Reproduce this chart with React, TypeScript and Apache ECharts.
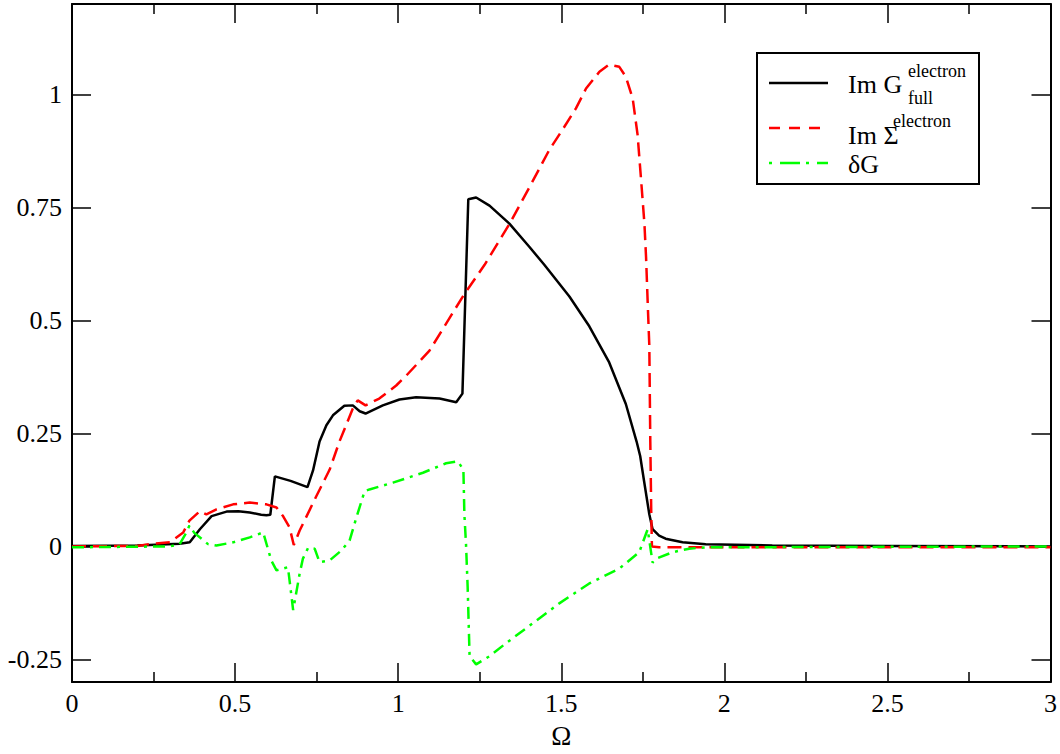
import React, { useEffect, useRef } from "react";
import * as echarts from "echarts";

// Im G_full^electron
const gX = [0, 0.2, 0.33, 0.361, 0.392, 0.428, 0.474, 0.51, 0.545, 0.58, 0.596, 0.608, 0.622, 0.67, 0.722, 0.739, 0.759, 0.78, 0.8, 0.835, 0.861, 0.882, 0.9, 0.953, 1.004, 1.055, 1.127, 1.178, 1.197, 1.215, 1.239, 1.28, 1.341, 1.402, 1.448, 1.525, 1.586, 1.647, 1.698, 1.731, 1.742, 1.754, 1.77, 1.78, 1.8, 1.82, 1.872, 1.943, 2.147, 2.5, 3];
const gY = [0.001, 0.002, 0.006, 0.009, 0.038, 0.067, 0.077, 0.078, 0.075, 0.07, 0.069, 0.07, 0.155, 0.145, 0.131, 0.168, 0.232, 0.268, 0.29, 0.311, 0.312, 0.299, 0.294, 0.312, 0.325, 0.33, 0.327, 0.319, 0.338, 0.768, 0.772, 0.754, 0.714, 0.663, 0.623, 0.553, 0.487, 0.407, 0.315, 0.232, 0.2, 0.144, 0.071, 0.038, 0.024, 0.017, 0.009, 0.005, 0.002, 0.001, 0.0];

// Im Sigma^electron
const sX = [0, 0.2, 0.239, 0.3, 0.341, 0.36, 0.392, 0.412, 0.443, 0.494, 0.545, 0.596, 0.627, 0.647, 0.667, 0.68, 0.698, 0.749, 0.79, 0.82, 0.861, 0.876, 0.9, 0.942, 0.994, 1.025, 1.096, 1.2, 1.265, 1.341, 1.402, 1.464, 1.504, 1.545, 1.576, 1.617, 1.647, 1.678, 1.698, 1.719, 1.734, 1.745, 1.755, 1.76, 1.766, 1.77, 1.773, 1.776, 1.778, 1.8, 3];
const sY = [0, 0.001, 0.005, 0.009, 0.031, 0.057, 0.078, 0.071, 0.082, 0.093, 0.097, 0.093, 0.086, 0.067, 0.042, 0.003, 0.035, 0.111, 0.17, 0.232, 0.305, 0.323, 0.312, 0.327, 0.356, 0.378, 0.433, 0.555, 0.623, 0.713, 0.794, 0.878, 0.922, 0.969, 1.013, 1.05, 1.066, 1.061, 1.039, 0.991, 0.911, 0.809, 0.714, 0.64, 0.52, 0.444, 0.232, 0.071, 0.0, -0.002, -0.002];

// delta G
const dX = [0, 0.3, 0.33, 0.351, 0.36, 0.375, 0.417, 0.443, 0.494, 0.545, 0.586, 0.611, 0.627, 0.662, 0.667, 0.678, 0.698, 0.708, 0.724, 0.744, 0.759, 0.79, 0.826, 0.851, 0.872, 0.897, 0.912, 0.984, 1.076, 1.147, 1.183, 1.2, 1.203, 1.208, 1.213, 1.219, 1.239, 1.28, 1.331, 1.413, 1.494, 1.586, 1.678, 1.739, 1.765, 1.78, 1.795, 1.841, 1.892, 1.943, 2.5, 3];
const dY = [-0.002, 0.0, 0.005, 0.031, 0.046, 0.03, 0.005, 0.002, 0.009, 0.02, 0.031, -0.031, -0.053, -0.046, -0.075, -0.141, -0.06, -0.027, -0.003, -0.005, -0.035, -0.031, -0.009, 0.013, 0.064, 0.122, 0.126, 0.141, 0.163, 0.184, 0.188, 0.17, 0.071, 0.005, -0.089, -0.243, -0.261, -0.243, -0.214, -0.17, -0.126, -0.082, -0.049, -0.013, 0.038, -0.036, -0.026, -0.013, -0.005, -0.002, -0.001, 0.0];

const yTicks = [-0.25, 0, 0.25, 0.5, 0.75, 1];

const zip = (xs: number[], ys: number[]) => xs.map((x, i) => [x, ys[i]]);

const FONT = "'Liberation Serif', 'Times New Roman', serif";

export default function App() {
  const ref = useRef<HTMLDivElement>(null);
  useEffect(() => {
    const chart = echarts.init(ref.current!, null, { renderer: "svg" });
    const axisLine = { show: true, onZero: false, lineStyle: { color: "#000", width: 2 } };
    const xCommon = {
      type: "value",
      min: 0,
      max: 3,
      interval: 0.5,
      axisLine,
      splitLine: { show: false },
      axisTick: { show: true, inside: true, length: 19, lineStyle: { color: "#000", width: 1.5 } },
      minorTick: { show: true, splitNumber: 2, length: 10, lineStyle: { color: "#000", width: 1.5 } },
    };
    const yCommon = {
      type: "value",
      min: -0.3,
      max: 1.2,
      axisLine,
      splitLine: { show: false },
      axisTick: {
        show: true,
        inside: true,
        length: 19,
        customValues: yTicks,
        lineStyle: { color: "#000", width: 1.5 },
      },
    };
    const lx = 769, lx2 = 828;
    const txt = (x: number, y: number, text: string, size: number) => ({
      type: "text",
      z: 101,
      style: { x, y, text, fontFamily: FONT, fontSize: size, fill: "#000", verticalAlign: "middle" },
    });
    chart.setOption({
      animation: false,
      backgroundColor: "#fff",
      textStyle: { fontFamily: FONT, color: "#000" },
      grid: { left: 72, top: 4, right: 8, bottom: 64, containLabel: false },
      xAxis: [
        {
          ...xCommon,
          position: "bottom",
          name: "Ω",
          nameLocation: "middle",
          nameGap: 40,
          nameTextStyle: { fontFamily: FONT, fontSize: 27, color: "#000" },
          axisLabel: { show: true, fontFamily: FONT, fontSize: 26, color: "#000", margin: 8 },
        },
        { ...xCommon, position: "top", axisLabel: { show: false } },
      ],
      yAxis: [
        {
          ...yCommon,
          position: "left",
          axisLabel: {
            show: true,
            customValues: yTicks,
            fontFamily: FONT,
            fontSize: 26,
            color: "#000",
            margin: 10,
          },
        },
        { ...yCommon, position: "right", axisLabel: { show: false } },
      ],
      series: [
        {
          type: "line",
          data: zip(gX, gY),
          showSymbol: false,
          symbol: "none",
          lineStyle: { color: "#000", width: 2.5 },
        },
        {
          type: "line",
          data: zip(sX, sY),
          showSymbol: false,
          symbol: "none",
          lineStyle: { color: "#ff0000", width: 2.5, type: [14, 7] },
        },
        {
          type: "line",
          data: zip(dX, dY),
          showSymbol: false,
          symbol: "none",
          lineStyle: { color: "#00ff00", width: 2.5, type: [12, 6, 3, 6] },
        },
      ],
      graphic: [
        {
          type: "rect",
          shape: { x: 757, y: 53, width: 222, height: 131 },
          style: { fill: "#fff", stroke: "#000", lineWidth: 2 },
          z: 100,
        },
        {
          type: "line",
          shape: { x1: lx, y1: 83, x2: lx2, y2: 83 },
          style: { stroke: "#000", lineWidth: 2.5 },
          z: 101,
        },
        {
          type: "line",
          shape: { x1: lx, y1: 128, x2: lx2, y2: 128 },
          style: { stroke: "#ff0000", lineWidth: 2.5, lineDash: [11, 9] },
          z: 101,
        },
        {
          type: "line",
          shape: { x1: lx, y1: 163, x2: lx2, y2: 163 },
          style: { stroke: "#00ff00", lineWidth: 2.5, lineDash: [3, 8, 20, 6] },
          z: 101,
        },
        txt(848, 84, "Im G", 26),
        txt(908, 70.5, "electron", 18),
        txt(908, 97.5, "full", 18),
        txt(848, 135, "Im Σ", 26),
        txt(893, 120.5, "electron", 18),
        txt(848, 164, "δG", 26),
      ],
    });
    return () => chart.dispose();
  }, []);
  return (
    <div
      ref={ref}
      style={{ position: "fixed", left: 0, top: 0, width: 1060, height: 754, background: "#fff" }}
    />
  );
}
